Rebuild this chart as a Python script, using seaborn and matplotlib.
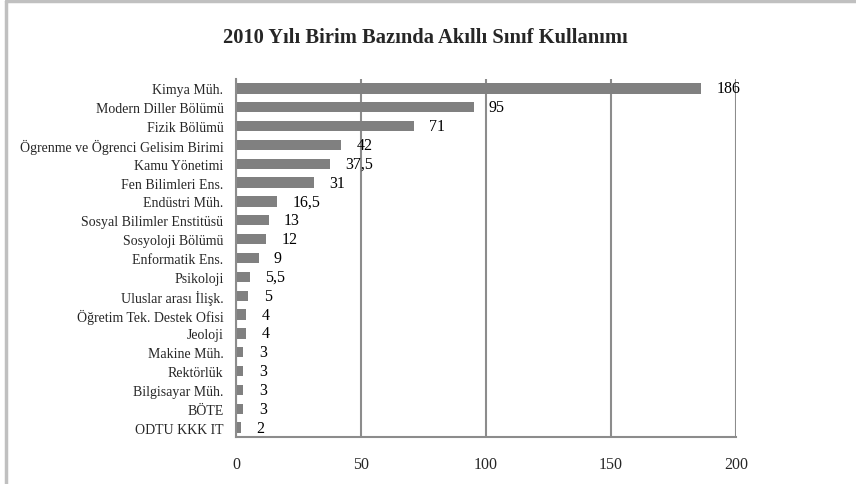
import matplotlib
matplotlib.use("Agg")
import matplotlib.pyplot as plt
import seaborn as sns
import pandas as pd
from matplotlib.lines import Line2D

birimler = [
    "Kimya Müh.", "Modern Diller Bölümü", "Fizik Bölümü",
    "Ögrenme ve Ögrenci Gelisim Birimi", "Kamu Yönetimi", "Fen Bilimleri Ens.",
    "Endüstri Müh.", "Sosyal Bilimler Enstitüsü", "Sosyoloji Bölümü",
    "Enformatik Ens.", "Psikoloji", "Uluslar arası İlişk.",
    "Öğretim Tek. Destek Ofisi", "Jeoloji", "Makine Müh.", "Rektörlük",
    "Bilgisayar Müh.", "BÖTE", "ODTU KKK IT",
]
kullanim = [186, 95, 71, 42, 37.5, 31, 16.5, 13, 12, 9, 5.5, 5, 4, 4, 3, 3, 3, 3, 2]
x_ticks = [0, 50, 100, 150, 200]

df = pd.DataFrame({"birim": birimler, "kullanim": kullanim})

sns.set_style("white")
plt.rcParams["font.family"] = ["Liberation Serif", "DejaVu Serif"]

fig = plt.figure(figsize=(8.56, 4.85), dpi=100)
ax = fig.add_axes([236 / 856, 1 - 438 / 485, 500 / 856, 358 / 485])

sns.barplot(data=df, x="kullanim", y="birim", orient="h", color="#808080",
            saturation=1, width=0.55, linewidth=0, ax=ax)

for i, v in enumerate(kullanim):
    txt = f"{v:g}".replace(".", ",")
    ax.annotate(txt, (v, i), xytext=(11, 0), textcoords="offset points",
                va="center", ha="left", fontsize=11.5, color="black")

ax.set_xlim(0, 200)
ax.set_xticks(x_ticks)
ax.set_ylim(len(birimler) - 0.5, -0.5)
ax.set_xlabel("")
ax.set_ylabel("")
ax.xaxis.grid(True, color="#8c8c8c", linewidth=1.5)
ax.set_axisbelow(True)
for s in ["top", "right"]:
    ax.spines[s].set_visible(False)
for s in ["left", "bottom"]:
    ax.spines[s].set_color("#8c8c8c")
    ax.spines[s].set_linewidth(1.5)
ax.tick_params(axis="y", length=0, pad=9, labelsize=10)
ax.tick_params(axis="x", length=0, pad=14, labelsize=11.5)

fig.suptitle("2010 Yılı Birim Bazında Akıllı Sınıf Kullanımı", x=425 / 856, y=1 - 38 / 485,
             va="center", fontsize=14.8, fontweight="bold")

# chart frame (left and top edges)
fig.add_artist(Line2D([5.5 / 856, 5.5 / 856], [0, 1 - 1.5 / 485], color="#c0c0c0", lw=2.5))
fig.add_artist(Line2D([5.5 / 856, 1], [1 - 1.5 / 485, 1 - 1.5 / 485], color="#c0c0c0", lw=2.5))

fig.savefig("out.png", dpi=100)
